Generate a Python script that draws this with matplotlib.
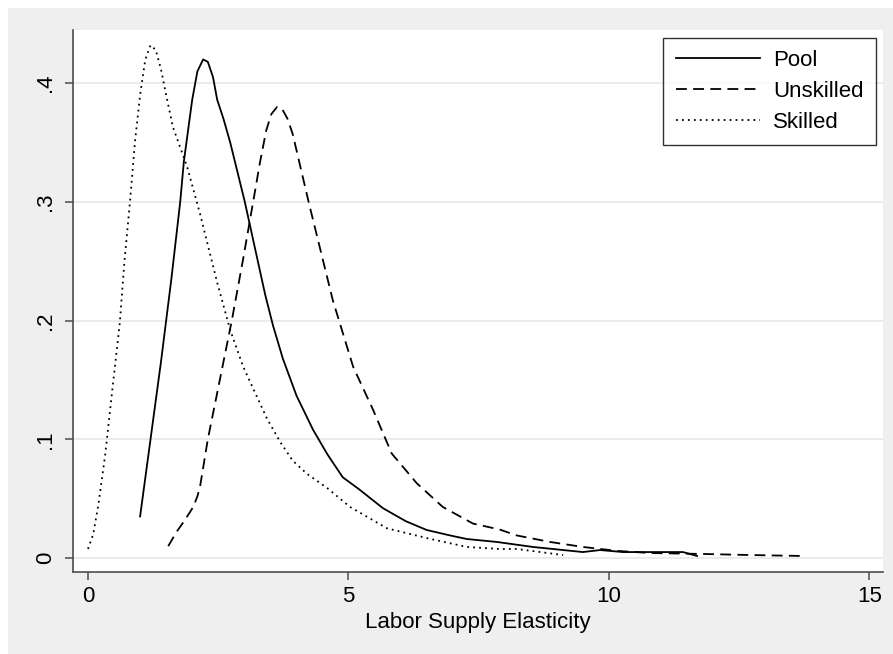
import matplotlib
matplotlib.use("Agg")
import matplotlib.pyplot as plt
from matplotlib.patches import Rectangle

plt.rcParams['font.family'] = ['Liberation Sans', 'DejaVu Sans']

# kernel density estimates
pool_x = [1.0, 1.2, 1.4, 1.6, 1.77, 1.84, 2.0, 2.1, 2.21, 2.3, 2.4, 2.48, 2.6, 2.73,
          2.87, 3.01, 3.2, 3.4, 3.55, 3.74, 4.0, 4.32, 4.6, 4.89, 5.2, 5.66, 6.1, 6.5,
          6.95, 7.27, 7.85, 8.54, 9.5, 9.83, 10.27, 11.0, 11.42, 11.69]
pool_y = [0.035, 0.10, 0.165, 0.235, 0.30, 0.334, 0.386, 0.410, 0.420, 0.418, 0.405,
          0.386, 0.37, 0.35, 0.325, 0.30, 0.262, 0.222, 0.196, 0.168, 0.137, 0.108,
          0.087, 0.068, 0.058, 0.042, 0.031, 0.0236, 0.019, 0.016, 0.0135, 0.0093,
          0.005, 0.0067, 0.005, 0.005, 0.005, 0.0017]

unsk_x = [1.54, 1.7, 1.86, 2.02, 2.1, 2.15, 2.3, 2.53, 2.76, 2.97, 3.17, 3.3, 3.42,
          3.52, 3.63, 3.73, 3.83, 3.93, 4.24, 4.7, 5.09, 5.47, 5.83, 6.31, 6.81, 7.39,
          7.9, 8.23, 8.87, 9.5, 10.15, 10.79, 11.8, 12.7, 13.72]
unsk_y = [0.010, 0.022, 0.032, 0.043, 0.052, 0.06, 0.10, 0.15, 0.20, 0.25, 0.30, 0.333,
          0.36, 0.374, 0.380, 0.378, 0.37, 0.357, 0.299, 0.217, 0.161, 0.125, 0.088,
          0.063, 0.043, 0.029, 0.024, 0.019, 0.0135, 0.0093, 0.006, 0.0042, 0.0034,
          0.0025, 0.0017]

skill_x = [0.0, 0.1, 0.2, 0.33, 0.45, 0.61, 0.7, 0.81, 0.9, 1.0, 1.1, 1.2, 1.3, 1.4,
           1.5, 1.63, 1.9, 2.15, 2.48, 2.73, 2.98, 3.44, 3.7, 3.93, 4.2, 4.59, 5.03,
           5.74, 6.5, 7.27, 7.9, 8.23, 9.12]
skill_y = [0.0076, 0.02, 0.045, 0.087, 0.135, 0.198, 0.25, 0.302, 0.35, 0.39, 0.42,
           0.432, 0.428, 0.412, 0.39, 0.363, 0.33, 0.29, 0.232, 0.192, 0.161, 0.117,
           0.097, 0.082, 0.071, 0.059, 0.043, 0.025, 0.0168, 0.0093, 0.0076, 0.0076,
           0.0025]

xticks = [0, 5, 10, 15]
yticks = [0, 0.1, 0.2, 0.3, 0.4]
ytick_labels = ['0', '.1', '.2', '.3', '.4']

fig = plt.figure(figsize=(8.93, 6.54), dpi=100, facecolor='white')
# Stata style grey frame
fig.patches.append(Rectangle((8 / 893, 0), 1, 1 - 8 / 654, transform=fig.transFigure,
                             facecolor='#EFEFEF', edgecolor='none', zorder=-10))

ax = fig.add_axes([73 / 893, 1 - 572 / 654, 810 / 893, 542 / 654])
ax.set_facecolor('white')

ax.plot(pool_x, pool_y, color='black', lw=1.3, ls='-', label='Pool')
ax.plot(unsk_x, unsk_y, color='black', lw=1.3, ls=(0, (6, 3.5)), label='Unskilled')
ax.plot(skill_x, skill_y, color='black', lw=1.3, ls=(0, (1, 2.3)), label='Skilled')

ax.set_xlim(-0.288, 15.26)
ax.set_ylim(-0.0118, 0.4448)
ax.set_xticks(xticks)
ax.set_yticks(yticks)
ax.set_yticklabels(ytick_labels, rotation=90, va='center')
ax.grid(axis='y', color='#E6E6E6', lw=1.1)
ax.set_axisbelow(True)

for s in ['top', 'right']:
    ax.spines[s].set_visible(False)
for s in ['left', 'bottom']:
    ax.spines[s].set_color('#4D4D4D')
    ax.spines[s].set_linewidth(1.2)
ax.tick_params(axis='both', colors='#4D4D4D', labelcolor='black', labelsize=16,
               length=6, width=1.1)
ax.tick_params(axis='y', pad=6)
ax.tick_params(axis='x', pad=4)

ax.set_xlabel('Labor Supply Elasticity', fontsize=16, labelpad=4)

leg = ax.legend(loc='upper right', bbox_to_anchor=(876 / 893, 1 - 38 / 654),
                bbox_transform=fig.transFigure, borderaxespad=0, fontsize=16,
                frameon=True, fancybox=False, edgecolor='black', handlelength=3.8,
                handletextpad=0.6, labelspacing=0.45, borderpad=0.55)
leg.get_frame().set_linewidth(1.0)

fig.savefig('out.png', dpi=100, facecolor=fig.get_facecolor())
